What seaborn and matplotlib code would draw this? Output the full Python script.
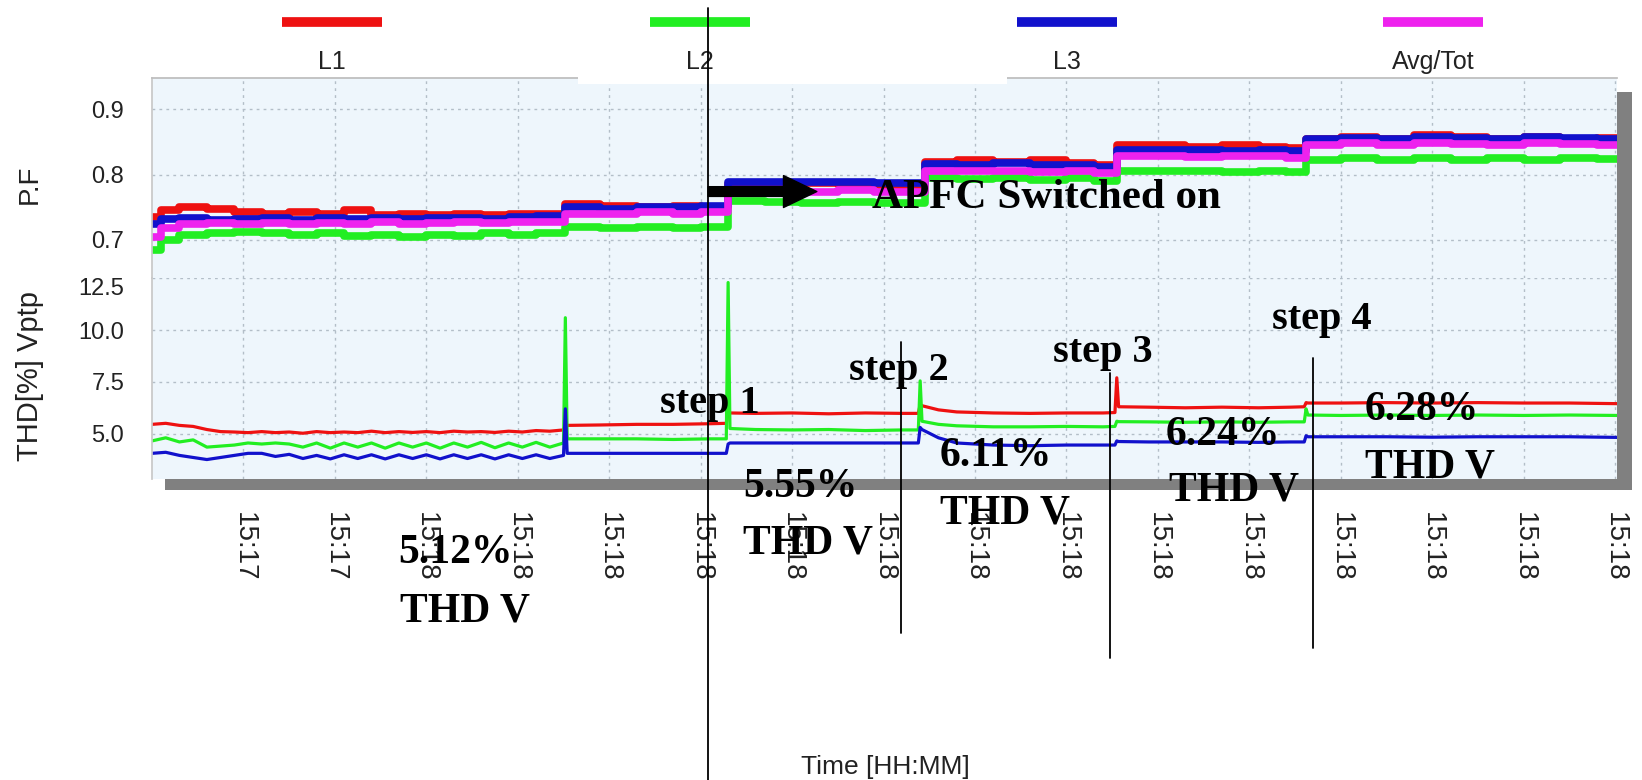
import numpy as np
import pandas as pd
import matplotlib
matplotlib.use("Agg")
import matplotlib.pyplot as plt
import matplotlib.transforms as mtransforms
from matplotlib.lines import Line2D
from matplotlib.patches import Rectangle
import seaborn as sns

# ---------------- data ----------------
SERIES = ["L1", "L2", "L3", "Avg/Tot"]
COLORS = {"L1": "#ee1111", "L2": "#22ee22", "L3": "#1111cc", "Avg/Tot": "#ee22ee"}

X_TICKS = list(range(1, 17))
X_LABELS = ["15:17", "15:17"] + ["15:18"] * 14

PF_TICKS = [0.7, 0.8, 0.9]
THD_TICKS = [5.0, 7.5, 10.0, 12.5]

PF_T = [0.0, 0.1, 0.3, 0.6, 0.9, 1.2, 1.5, 1.8, 2.1, 2.4, 2.7, 3.0, 3.3, 3.6, 3.9, 4.2,
        4.52, 4.9, 5.3, 5.7, 6.0,
        6.3, 6.7, 7.1, 7.5, 7.9,
        8.45, 8.8, 9.2, 9.6, 10.0, 10.3,
        10.55, 10.9, 11.3, 11.7, 12.1, 12.4,
        12.62, 13.0, 13.4, 13.8, 14.2, 14.6, 15.0, 15.4, 15.8, 16.02]
PF_L1 = [0.735, 0.745, 0.750, 0.748, 0.742, 0.740, 0.742, 0.740, 0.745, 0.738, 0.740, 0.738, 0.740, 0.738, 0.740, 0.740,
         0.755, 0.752, 0.750, 0.752, 0.750,
         0.785, 0.785, 0.787, 0.785, 0.783,
         0.820, 0.822, 0.820, 0.822, 0.818, 0.815,
         0.845, 0.845, 0.843, 0.845, 0.843, 0.840,
         0.855, 0.858, 0.855, 0.860, 0.857, 0.855, 0.858, 0.855, 0.856, 0.856]
PF_L2 = [0.685, 0.700, 0.708, 0.710, 0.712, 0.710, 0.708, 0.710, 0.706, 0.708, 0.705, 0.708, 0.706, 0.710, 0.708, 0.710,
         0.720, 0.718, 0.720, 0.718, 0.720,
         0.760, 0.758, 0.756, 0.758, 0.756,
         0.795, 0.793, 0.795, 0.792, 0.795, 0.790,
         0.806, 0.805, 0.806, 0.804, 0.806, 0.804,
         0.822, 0.825, 0.822, 0.826, 0.823, 0.825, 0.822, 0.826, 0.824, 0.824]
PF_L3 = [0.725, 0.732, 0.733, 0.730, 0.732, 0.733, 0.731, 0.733, 0.732, 0.734, 0.732, 0.733, 0.734, 0.732, 0.735, 0.737,
         0.750, 0.748, 0.750, 0.750, 0.752,
         0.788, 0.789, 0.788, 0.789, 0.787,
         0.816, 0.815, 0.817, 0.815, 0.815, 0.812,
         0.838, 0.837, 0.838, 0.836, 0.838, 0.836,
         0.855, 0.856, 0.855, 0.857, 0.856, 0.855, 0.857, 0.856, 0.855, 0.855]
PF_AVG = [0.705, 0.718, 0.724, 0.726, 0.725, 0.726, 0.724, 0.726, 0.725, 0.727, 0.725, 0.726, 0.727, 0.726, 0.728, 0.728,
          0.740, 0.740, 0.742, 0.740, 0.742,
          0.776, 0.776, 0.774, 0.776, 0.774,
          0.806, 0.805, 0.806, 0.804, 0.806, 0.802,
          0.828, 0.828, 0.827, 0.829, 0.828, 0.826,
          0.846, 0.848, 0.846, 0.848, 0.847, 0.846, 0.848, 0.847, 0.846, 0.846]

THD_T = [0.00, 0.15, 0.30, 0.45, 0.60, 0.75, 0.90, 1.05, 1.20, 1.35, 1.50, 1.65, 1.80, 1.95, 2.10, 2.25,
         2.40, 2.55, 2.70, 2.85, 3.00, 3.15, 3.30, 3.45, 3.60, 3.75, 3.90, 4.05, 4.20, 4.35, 4.50,
         4.52, 4.54,
         4.9, 5.3, 5.7, 6.1, 6.28,
         6.30, 6.32,
         6.6, 7.0, 7.4, 7.8, 8.2, 8.38,
         8.40, 8.42,
         8.6, 8.8, 9.2, 9.6, 10.0, 10.4, 10.53,
         10.55, 10.57,
         10.9, 11.3, 11.7, 12.1, 12.45, 12.60,
         12.62, 12.64,
         13.0, 13.5, 14.0, 14.5, 15.0, 15.5, 16.02]
THD_L1 = [5.45, 5.50, 5.40, 5.35, 5.20, 5.10, 5.08, 5.05, 5.10, 5.05, 5.08, 5.02, 5.10, 5.05, 5.08, 5.05,
          5.12, 5.05, 5.10, 5.06, 5.10, 5.05, 5.12, 5.08, 5.10, 5.06, 5.12, 5.08, 5.15, 5.12, 5.18,
          5.40, 5.40,
          5.42, 5.45, 5.45, 5.48, 5.50,
          6.00, 6.00,
          5.98, 6.00, 5.96, 6.00, 5.98, 5.98,
          6.40, 6.35,
          6.15, 6.05, 6.00, 5.98, 6.00, 6.00, 6.02,
          7.70, 6.30,
          6.28, 6.25, 6.28, 6.25, 6.28, 6.30,
          6.50, 6.48,
          6.48, 6.50, 6.48, 6.50, 6.48, 6.48, 6.45]
THD_L2 = [4.65, 4.80, 4.60, 4.70, 4.35, 4.40, 4.45, 4.55, 4.50, 4.55, 4.50, 4.35, 4.55, 4.30, 4.55, 4.35,
          4.55, 4.30, 4.55, 4.35, 4.55, 4.30, 4.55, 4.35, 4.58, 4.32, 4.55, 4.35, 4.58, 4.35, 4.55,
          10.60, 4.75,
          4.75, 4.75, 4.72, 4.75, 4.75,
          12.30, 5.25,
          5.20, 5.18, 5.20, 5.15, 5.18, 5.18,
          7.55, 5.60,
          5.45, 5.38, 5.33, 5.33, 5.35, 5.33, 5.35,
          5.60, 5.58,
          5.57, 5.55, 5.57, 5.55, 5.57, 5.57,
          6.20, 5.90,
          5.88, 5.90, 5.88, 5.90, 5.88, 5.90, 5.88]
THD_L3 = [4.05, 4.10, 3.95, 3.85, 3.75, 3.85, 3.95, 4.05, 4.05, 3.90, 4.00, 3.80, 3.95, 3.78, 3.98, 3.80,
          3.98, 3.78, 3.98, 3.80, 3.98, 3.78, 3.98, 3.80, 3.98, 3.78, 3.98, 3.80, 3.98, 3.80, 3.95,
          6.20, 4.05,
          4.05, 4.05, 4.05, 4.05, 4.05,
          4.50, 4.55,
          4.55, 4.55, 4.55, 4.55, 4.55, 4.55,
          5.30, 5.20,
          4.80, 4.55, 4.45, 4.42, 4.45, 4.45, 4.45,
          4.65, 4.62,
          4.60, 4.60, 4.60, 4.58, 4.60, 4.60,
          4.90, 4.85,
          4.85, 4.85, 4.83, 4.85, 4.85, 4.85, 4.82]

MARK_X = [6.08, 8.19, 10.48, 12.70]       # annotation line times
ARROW_X = [6.08, 7.27]
ARROW_PF = 0.774

TITLE_APFC = "APFC Switched on"
STEP_TEXT = ["step 1", "step 2", "step 3", "step 4"]
THD_VALUES = ["5.12%", "5.55%", "6.11%", "6.24%", "6.28%"]

# ---------------- style ----------------
sns.set_theme(style="white")
plt.rcParams["font.family"] = ["Liberation Sans", "DejaVu Sans"]

W, H = 1642, 780
fig = plt.figure(figsize=(W / 100, H / 100), dpi=100)
fig.patch.set_facecolor("white")


def fx(px):
    return px / W


def fy(py):
    return 1 - py / H


L, R = 152, 1617
TOP, MID, BOT = 78, 278, 479
ax1 = fig.add_axes([fx(L), fy(MID), (R - L) / W, (MID - TOP) / H])
ax2 = fig.add_axes([fx(L), fy(BOT), (R - L) / W, (BOT - MID) / H])

BG = "#eef6fc"
GRID = "#b3bec8"
for ax in (ax1, ax2):
    ax.set_facecolor(BG)
    ax.set_xlim(0, 16.02)
    ax.set_xticks(X_TICKS)
    ax.grid(True, color=GRID, linestyle=(0, (2, 3)), linewidth=1.0)
    ax.tick_params(axis="both", length=0)
    ax.tick_params(axis="y", pad=20, labelsize=17, labelcolor="#222222")
    for s in ax.spines.values():
        s.set_visible(False)
    ax.spines["left"].set_visible(True)
    ax.spines["left"].set_color("#c8c8c8")
ax1.spines["top"].set_visible(True)
ax1.spines["top"].set_color("#bdbdbd")

pf = pd.DataFrame({"t": PF_T, "L1": PF_L1, "L2": PF_L2, "L3": PF_L3, "Avg/Tot": PF_AVG})
pf_long = pf.melt(id_vars="t", var_name="series", value_name="val")
sns.lineplot(data=pf_long, x="t", y="val", hue="series", hue_order=SERIES, palette=COLORS,
             estimator=None, drawstyle="steps-post", linewidth=5.5, legend=False, ax=ax1)

thd = pd.DataFrame({"t": THD_T, "L1": THD_L1, "L2": THD_L2, "L3": THD_L3})
thd_long = thd.melt(id_vars="t", var_name="series", value_name="val")
sns.lineplot(data=thd_long, x="t", y="val", hue="series", hue_order=SERIES[:3], palette=COLORS,
             estimator=None, linewidth=2.3, legend=False, ax=ax2)

ax1.set_ylim(0.6415, 0.948)
ax1.set_yticks(PF_TICKS)
ax1.set_yticklabels([f"{v:.1f}" for v in PF_TICKS])
ax1.tick_params(axis="x", labelbottom=False)
ax1.set_xlabel("")
ax1.set_ylabel("")

ax2.set_ylim(2.81, 12.52)
ax2.set_yticks(THD_TICKS)
ax2.set_yticklabels([f"{v:.1f}" for v in THD_TICKS])
ax2.get_yticklabels()[-1].set_va("top")
ax2.set_xticklabels(X_LABELS, rotation=-90, fontsize=20, color="#222222")
ax2.tick_params(axis="x", pad=24)
ax2.set_xlabel("")
ax2.set_ylabel("")

# axis titles
fig.text(fx(30), fy(184), "P.F", rotation=90, ha="center", va="center", fontsize=20, color="#222222")
fig.text(fx(30), fy(376), "THD[%] Vptp", rotation=90, ha="center", va="center", fontsize=21, color="#222222")
fig.text(fx(885), fy(767), "Time [HH:MM]", ha="center", va="center", fontsize=19, color="#222222")

# drop shadow of the chart frame
fig.add_artist(Rectangle((fx(165), fy(490)), (1632 - 165) / W, 11 / H, transform=fig.transFigure,
                         facecolor="#808080", edgecolor="none", zorder=3))
fig.add_artist(Rectangle((fx(1617), fy(490)), 15 / W, (490 - 92) / H, transform=fig.transFigure,
                         facecolor="#808080", edgecolor="none", zorder=3))
# white block over the top frame (as in the source image)
fig.add_artist(Rectangle((fx(578), fy(84)), (1007 - 578) / W, (84 - 30) / H, transform=fig.transFigure,
                         facecolor="white", edgecolor="none", zorder=4))

# legend (bars above, labels below)
LEG_X = [332, 700, 1067, 1433]
for name, cx in zip(SERIES, LEG_X):
    fig.add_artist(Line2D([fx(cx - 50), fx(cx + 50)], [fy(22), fy(22)], transform=fig.transFigure,
                          color=COLORS[name], linewidth=7, solid_capstyle="butt", zorder=6))
    fig.text(fx(cx), fy(62), name, ha="center", va="center", fontsize=18, color="#222222", zorder=6)

# annotation lines
blend = mtransforms.blended_transform_factory(ax2.transData, fig.transFigure)
LINE_Y = [(8, 780), (342, 633), (373, 658), (358, 648)]
for xm, (y0, y1) in zip(MARK_X, LINE_Y):
    fig.add_artist(Line2D([xm, xm], [fy(y0), fy(y1)], transform=blend, color="black",
                          linewidth=1.3, zorder=10, clip_on=False))

# APFC arrow
ax1.annotate("", xy=(ARROW_X[1], ARROW_PF), xytext=(ARROW_X[0], ARROW_PF),
             arrowprops=dict(facecolor="black", edgecolor="black", width=7, headwidth=23,
                             headlength=24, shrink=0), zorder=8)

SERIF = dict(family=["Liberation Serif", "DejaVu Serif"], fontweight="bold", color="black",
             ha="left", va="baseline", zorder=9)
fig.text(fx(872), fy(208), TITLE_APFC, fontsize=31, **SERIF)
STEP_POS = [(660, 413), (849, 380), (1053, 362), (1272, 329)]
for txt, (px, py) in zip(STEP_TEXT, STEP_POS):
    fig.text(fx(px), fy(py), txt, fontsize=29, **SERIF)
VAL_POS = [(398, 563), (743, 497), (940, 466), (1166, 445), (1365, 420)]
THDV_POS = [(400, 622), (743, 553), (940, 523), (1169, 500), (1365, 477)]
for txt, (px, py), (qx, qy) in zip(THD_VALUES, VAL_POS, THDV_POS):
    fig.text(fx(px), fy(py), txt, fontsize=30, **SERIF)
    fig.text(fx(qx), fy(qy), "THD V", fontsize=30, **SERIF)

fig.savefig("out.png", dpi=100, facecolor="white")
